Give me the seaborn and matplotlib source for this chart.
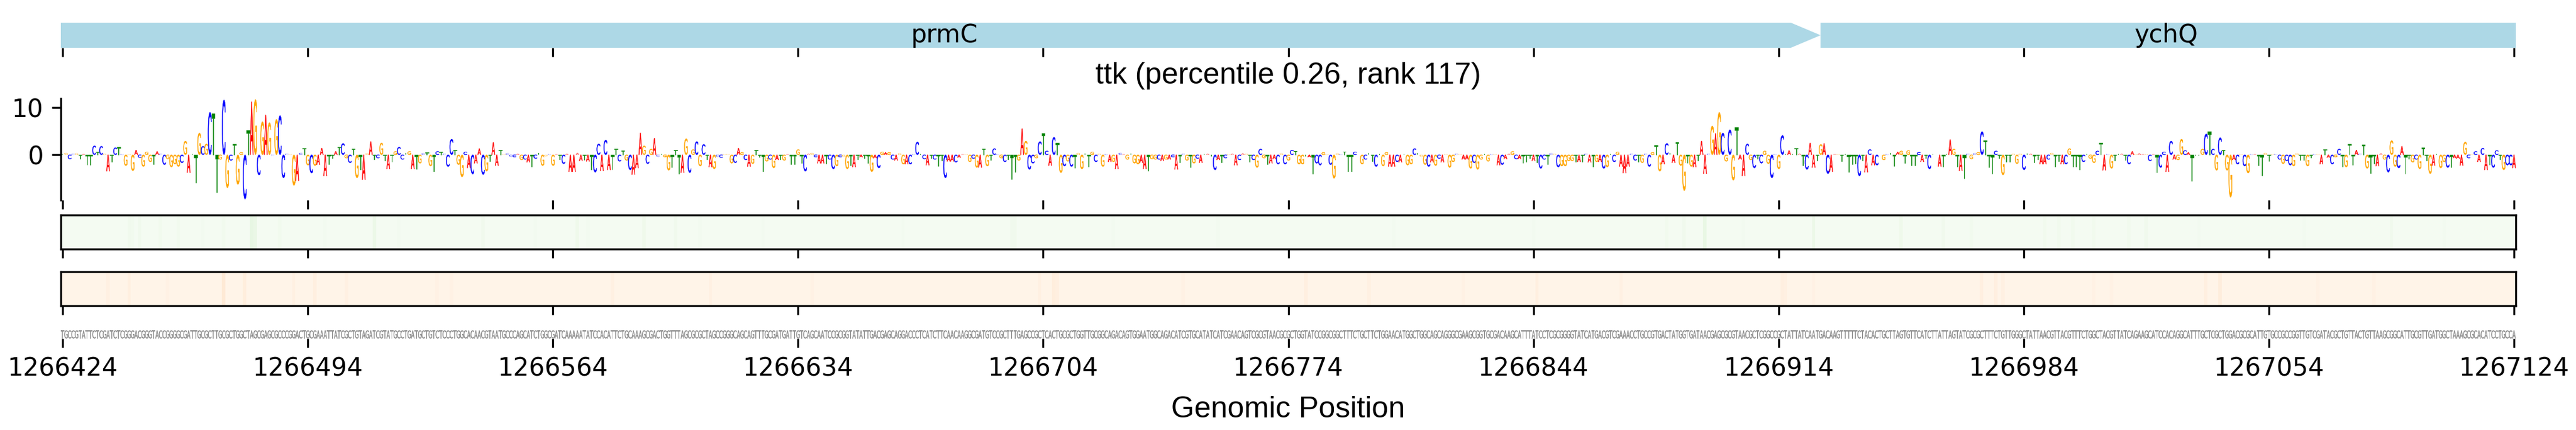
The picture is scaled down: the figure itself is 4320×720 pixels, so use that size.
import numpy as np
import matplotlib
matplotlib.use("Agg")
import matplotlib.pyplot as plt
import seaborn as sns
from matplotlib.font_manager import FontProperties
from matplotlib.patches import PathPatch
from matplotlib.textpath import TextPath
from matplotlib.transforms import Affine2D

start_position = 1266424
tick_positions = list(range(0, 701, 70))
tick_labels = [str(start_position + p) for p in tick_positions]

gene_names = ["prmC", "ychQ"]
gene_starts = [-0.5, 502]
gene_ends = [502, 700.5]

# sequence and attribution height per base, one block per tick interval
seq_000 = "TGCCGTATTCTCGATCTCGGGACGGGTACCGGGGCGATTGCGCTTGCGCTGGCTAGCGAGCGCCCGGACT"
h_000 = [.1, .4, -.9, .2, .3, -.9, .15, -2.2, -2.2, 1.9,
         .6, 1.8, .2, -3.5, -1.5, 1.5, 1.6, .1, -2.3, .1,
         -3.4, 1, -.6, -2.5, .6, -1.5, -2, .7, .2, -2.1,
         -.9, -2.6, -2, -2.5, -1.7, 2.9, -3.8, .1, -5.9, 4.6,
         1.8, 2.3, 9, 8.7, -7.9, -1, 11.6, -7, -1.2, 2.3,
         -6.3, .5, -9.4, 5.2, 11.2, 11.7, -4.3, 7, 8.4, 6.8,
         -.1, 7.5, 8.3, -4.9, .2, .1, -6.5, -5.5, .4, 1.4]

seq_070 = "GCGAAATTATCGCTGTAGATCGTATGCCTGATGCTGTCTCCCTGGCACAACGTAATGCCCAGCATCTGGC"
h_070 = [-2.2, -3.9, -2.3, -2.1, 1.4, -4.5, -2, -.8, .7, 1.7,
         2.4, -.7, -1.7, 1.3, -4.9, -3.2, -5.3, .3, 2.8, -1,
         -.7, 2.5, -1.2, -3, -1.5, .7, 1.6, -1, .4, .7,
         -3, -3, -1.8, .3, .5, -2.4, -3.5, .7, .6, .2,
         -2.5, 3.3, 1, -2.1, -4.7, .6, -2.8, -4.1, -1.8, 1.3,
         -4.2, -3.5, -1.4, 2.6, -2.3, 1, .1, .3, -.4, -.5,
         .2, -1.1, -1, -1.6, -2.5, -.8, .4, -2.3, -.3, .1]

seq_140 = "GATCAAAAATATCCACATTCTGCAAAGCGACTGGTTTAGCGCGCTAGCCGGGCAGCAGTTTGCGATGATT"
h_140 = [-2.3, .1, -1, -1.9, .2, -3.6, -3.6, .4, -1.3, -1.1,
         -1.4, -3.2, -3.7, 2.3, -3.4, 3.1, -3.2, -3.2, 1.3, -1.4,
         .9, -1.2, -3.2, -4.2, -2.8, 4.6, 1.9, -1.9, 1.2, 3.5,
         -.4, .2, -.5, -3.3, -2.7, 1, -4, -3.8, 3.4, -3.8,
         1.1, 2.8, -2.4, 2.2, -1, -2.6, -3, -.4, -.6, .1,
         .1, -1.8, -1.7, 1.4, .5, -1.1, -2.5, -1.9, 1, -.5,
         -3.5, -1.4, -1, -2.8, -1.1, -1, -1.2, .1, -2, -2]

seq_210 = "GTCAGCAATCCGCGGTATATTGACGAGCAGGACCCTCATCTTCAACAAGGCGATGTCCGCTTTGAGCCGC"
h_210 = [1.1, -1.8, -3.5, .2, .4, -.5, -1.8, -1.8, -1.9, -1,
         -3, -2.4, -.5, -.4, -3, -2.3, -2.6, -1, -.5, -.8,
         -1.8, -3.6, -.7, -2.8, .6, .5, .5, -1, -1.2, .3,
         -2, -2, -2, .1, 2.7, .1, -.9, -2.2, -.8, -1,
         -2.4, -1.2, -4.9, -1.4, -1.4, -1.6, -.6, .1, .1, -1.5,
         -.8, -2.7, -2.7, 1.3, -2.4, -1.1, 1.3, .1, -.7, -1.5,
         -1, -5.2, -3.6, -1.2, 5.5, 2.9, -3.1, -1.8, -.7, 2.8]

seq_280 = "TCACTGCGCTGGTTGCGGCAGACAGTGGAATGGCAGACATCGTGCATATCATCGAACAGTCGCGTAACGC"
h_280 = [4.6, .8, -2.3, 3.7, 2.5, -3.8, -2.4, -1.4, -2.5, -2.8,
         .4, -3, .3, -2.5, .6, -1.5, .2, -2.5, .1, -1.5,
         -1.5, -3, .4, .1, -1, .3, -1.8, -2, -1.7, -3,
         -3.4, -.9, -1, -1, -1.3, -1, -1, -.5, -3.1, -1.6,
         .2, -1.2, -2.6, -1.8, -.8, -1.7, .2, .2, -.4, -3.2,
         -1.1, -1.6, -.7, .1, .2, -2.2, -1.1, .3, .2, -1.5,
         -1.1, -2.7, 1.2, -.7, -2, -1.8, -.9, -2, .3, -2]

seq_350 = "GCTGGTATCCGGCGGCTTTCTGCTTCTGGAACATGGCTGGCAGCAGGGCGAAGCGGTGCGACAAGCATTT"
h_350 = [-1.2, 1, .8, -2, -2, -.4, -.5, -4, -1.8, -2.2,
         .5, .1, -2.1, -5, .3, .1, .7, -3.5, -3.5, .6,
         -.4, -2, -1, .4, -1.4, -2.5, .1, -2.4, .5, -2.5,
         -2.5, -1.5, -1.6, .2, -2.2, -2, 1.3, .4, -.4, -2.1,
         -2.5, -1.6, -2.3, -.8, -1.6, .1, -2.7, -1.5, .2, .1,
         -1, -1, -2.9, -1.7, -3.1, -1, .1, -1.4, .1, .1,
         -2.2, -2.1, -.9, .2, .7, -.9, -.9, -1.7, -1.5, -.8]

seq_420 = "ATCCTCGCGGGGTATCATGACGTCGAAACCTGCCGTGACTATGGTGATAACGAGCGCGTAACGCTCGGCC"
h_420 = [-1.3, -1.6, -2.9, -1, -2, .3, .2, -2.6, -2.4, -2.4,
         -1.3, -1.3, -1.5, -1.5, -1.5, .2, -1.6, -2.5, -1.5, -1.5,
         -2.9, -2.6, .1, -1.5, .6, -2.5, -3.9, -2.5, .2, -1.2,
         -1.5, -1.7, .2, -2.5, .5, 2, -3.5, -2, 2.4, .4,
         -1.7, 2.7, -2.3, -7.6, -1.8, -2.5, -2.6, -1.3, 2.9, -4,
         .2, 6.1, 4.5, 9, 4.6, -1.4, 5.3, -5.4, 5.8, -1,
         -4.5, 2.3, -1.1, -2.8, -.9, -1.8, .8, -1.9, -4.9, .1]

seq_490 = "GCTATTATCAATGACAAGTTTTTCTACACTGCTTAGTGTTCATCTTATTAGTATCGCGCTTTCTGTTGGG"
h_490 = [-3, 4.1, .1, .9, .1, 1.4, .2, -2.3, -3.1, 2.5,
         -2.7, -1.2, 2.2, 2.4, -4, -3.6, .1, .1, -1.4, .1,
         -3.6, -2, -1.9, -4.5, -1.3, -3.7, 1.1, -2.2, -2.2, .1,
         -1.1, .1, .4, -2.4, .6, .8, -1.7, .9, -2.3, -2.3,
         .5, -1.5, -.8, -3, .1, .1, -2.5, -2.5, .1, 3.2,
         1.2, -2.5, -3.4, -5, .2, -.9, .3, .5, 4.9, 3.1,
         -2.6, -4, .8, -.7, -4.3, -1.5, -1.5, .2, -1.9, .2]

seq_560 = "CTATTAACGTTACGTTTCTGGCTACGTTATCAGAAGCATCCACAGGCATTTGCTCGCTGGACGCGCATTG"
h_560 = [-3.2, .3, .2, -1.6, -1, -2, -2, -1, .4, -2.5,
         -1.4, -2, -2, 1.3, -2.5, -2.5, -3.2, -1.5, .2, -.8,
         -1.7, .8, 2.6, -3.3, .1, -2.9, -1.3, .2, .2, -1.1,
         -2, .7, .1, .3, .1, .1, -1.3, .1, -3.8, -2.7,
         .6, -3.6, 2.9, -1, -1.1, 3.3, .9, .5, -5.6, -.2,
         -.3, 1.2, 4.4, 4.9, 1.2, -3.3, 3.6, 1, -3.3, -9,
         -1.1, -2, .1, -2.4, -3.9, .1, .1, -2.3, -4.4, .4]

seq_630 = "TGCCGCCGGTTGTCGATACGCTGTTACTGTTAAGCGGCATTGCGTTGATGGCTAAAGCGCACATCCTGCCA"
h_630 = [-1.4, .1, .1, -1, -1.9, -1.3, -2.2, -2.4, .3, -1.1,
         -1.1, -2.4, -.6, .1, .1, -2, 1.2, -.6, -2, -.5,
         1.2, -2.5, -2.6, 2.3, -2.2, 1, .2, 2.2, -2.9, -3.9,
         -1.9, -2.4, .3, -1, -3.7, 3, -2.5, -2.8, 1.8, -4,
         -.9, -1.6, -1, -3, 1.5, -1.2, -4, -2.3, .2, -2.8,
         -1.5, -2.7, -2.7, -.7, -.8, -2.3, 2.7, -.7, .1, .7,
         -1.5, 1.4, -3.2, -2.1, -2.7, .9, -1, -3.2, -2.2, -2.2, -2.8]

sequence = seq_000 + seq_070 + seq_140 + seq_210 + seq_280 + seq_350 + seq_420 + seq_490 + seq_560 + seq_630
heights = h_000 + h_070 + h_140 + h_210 + h_280 + h_350 + h_420 + h_490 + h_560 + h_630
print(len(sequence), len(heights))

# the two pale tracks: base level plus the stripes that can be seen
green_base = 0.02
green_pos = [19, 20, 22, 28, 33, 40, 46, 54, 55, 62, 75, 89, 96, 120, 135, 147, 150, 166, 175, 182,
             200, 240, 271, 272, 300, 330, 380, 420, 458, 463, 469, 480, 500, 525, 537, 545,
             566, 570, 574, 580, 590, 595, 610, 640, 665, 680]
green_val = [.05, .04, .05, .04, .04, .035, .04, .11, .09, .04, .035, .08, .035, .05, .035, .06, .035, .06, .05, .035,
             .035, .035, .05, .05, .035, .035, .035, .035, .04, .05, .1, .035, .08, .06, .05, .04,
             .04, .04, .04, .04, .04, .05, .035, .035, .05, .035]

orange_base = 0.015
orange_pos = [13, 19, 30, 46, 52, 66, 72, 81, 107, 111, 157, 185, 214, 279, 283, 284, 320, 355, 373, 400,
              421, 445, 491, 492, 500, 548, 552, 554, 580, 585, 612, 616, 644, 660]
orange_val = [.04, .05, .035, .09, .06, .04, .05, .04, .035, .035, .04, .04, .035, .04, .06, .05, .035, .05, .04, .035,
              .05, .04, .05, .04, .035, .05, .05, .04, .035, .035, .05, .07, .035, .035]

base_colors = {"A": "red", "C": "blue", "G": "orange", "T": "green"}

sns.set_style("ticks", {"axes.edgecolor": "black", "xtick.color": "black", "ytick.color": "black",
                        "text.color": "black", "axes.labelcolor": "black"})
plt.rcParams["font.family"] = ["DejaVu Sans"]
label_font = "Liberation Sans"
letter_font = FontProperties(family="DejaVu Sans")


def px_axes(fig, top, bottom, left=102, right=4219):
    return fig.add_axes([left / 4320, 1 - bottom / 720, (right - left) / 4320, (bottom - top) / 720])


def draw_letter(ax, base, pos, floor, height, color, edge):
    # stretch the glyph to fill one base wide and the given height
    path = TextPath((0, 0), base, size=1, prop=letter_font)
    box = path.get_extents()
    trans = (Affine2D().translate(-box.x0, -box.y0)
             .scale(0.95 / box.width, height / box.height)
             .translate(pos - 0.475, floor))
    ax.add_patch(PathPatch(trans.transform_path(path), facecolor=color, edgecolor=color, linewidth=edge))


def track_values(base, pos, val):
    row = np.full(len(sequence), base)
    row[pos] = val
    return row.reshape(1, -1)


fig = plt.figure(figsize=(14.4, 2.4), dpi=300)

# gene arrows
ax_gene = px_axes(fig, 38, 80)
ax_gene.set_xlim(-0.5, 700.5)
ax_gene.set_ylim(0, 1)
for name, g0, g1 in zip(gene_names, gene_starts, gene_ends):
    if name == "prmC":
        ax_gene.fill([g0, g1 - 8.5, g1, g1 - 8.5, g0], [0, 0, 0.5, 1, 1], color="lightblue", lw=0)
        ax_gene.text((g0 + g1) / 2 + 1, 0.5, name, ha="center", va="center", fontsize=10)
    else:
        ax_gene.fill([g0, g1, g1, g0], [0, 0, 1, 1], color="lightblue", lw=0)
        ax_gene.text((g0 + g1) / 2 - 0.5, 0.5, name, ha="center", va="center", fontsize=10)
ax_gene.set_yticks([])
ax_gene.set_xticks(tick_positions)
ax_gene.set_xticklabels([])
sns.despine(ax=ax_gene, left=True, bottom=True)

# attribution logo
ax_logo = px_axes(fig, 165, 335)
ax_logo.set_xlim(-0.5, 700.5)
ax_logo.set_ylim(-9.6, 11.9)
for i, (base, h) in enumerate(zip(sequence, heights)):
    draw_letter(ax_logo, base, i, min(h, 0), abs(h), base_colors[base], 0.12 if abs(h) >= 0.5 else 0)
ax_logo.set_yticks([0, 10])
ax_logo.set_xticks(tick_positions)
ax_logo.set_xticklabels([])
ax_logo.set_title("ttk (percentile 0.26, rank 117)", fontsize=12, family=label_font, pad=6)
sns.despine(ax=ax_logo, bottom=True)

# two heat tracks
ax_green = px_axes(fig, 360, 417)
sns.heatmap(track_values(green_base, green_pos, green_val), ax=ax_green, cmap="Greens", vmin=0, vmax=1, cbar=False)
ax_orange = px_axes(fig, 455, 512)
sns.heatmap(track_values(orange_base, orange_pos, orange_val), ax=ax_orange, cmap="Oranges", vmin=0, vmax=1, cbar=False)
for ax in [ax_green, ax_orange]:
    ax.set_yticks([])
    ax.set_xticks([p + 0.5 for p in tick_positions])
    ax.set_xticklabels([])
    for spine in ax.spines.values():
        spine.set_visible(True)
        spine.set_linewidth(0.8)
        spine.set_edgecolor("black")

# sequence row
ax_seq = px_axes(fig, 553, 567)
ax_seq.set_xlim(-0.5, 700.5)
ax_seq.set_ylim(0, 1)
for i, base in enumerate(sequence):
    draw_letter(ax_seq, base, i, 0.02, 0.96, "gray", 0.06)
ax_seq.set_yticks([])
ax_seq.set_xticks(tick_positions)
ax_seq.set_xticklabels(tick_labels, fontsize=10)
ax_seq.set_xlabel("Genomic Position", fontsize=12, family=label_font, labelpad=6)
sns.despine(ax=ax_seq, left=True, bottom=True)

fig.savefig("out.png", dpi=300)
